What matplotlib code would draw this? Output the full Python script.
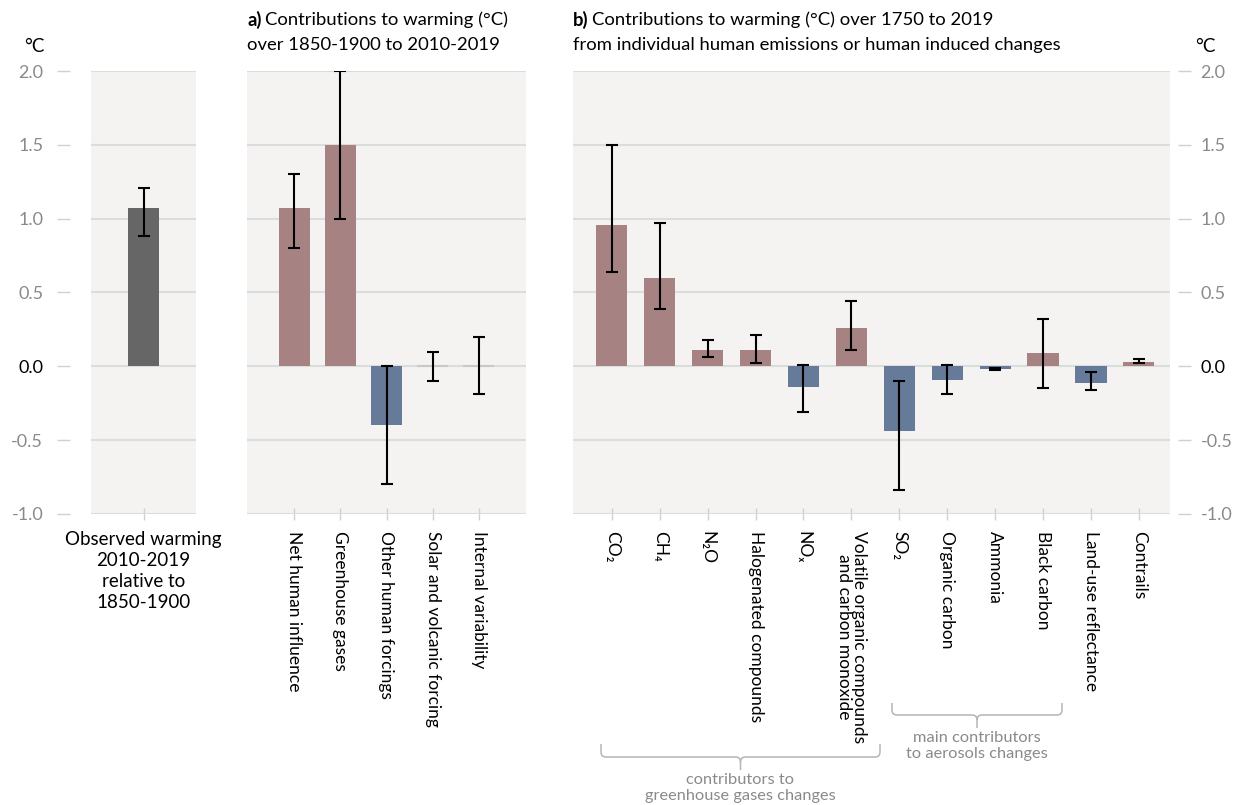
import matplotlib
matplotlib.use("Agg")
import matplotlib.pyplot as plt
from matplotlib.path import Path
from matplotlib.patches import PathPatch

plt.rcParams['font.family'] = ['Lato', 'DejaVu Sans']

# ---------------- data ----------------
obs_labels = ["Observed warming\n2010-2019\nrelative to\n1850-1900"]
obs_values = [1.07]
obs_low = [0.88]
obs_high = [1.21]

a_labels = ["Net human influence", "Greenhouse gases", "Other human forcings",
            "Solar and volcanic forcing", "Internal variability"]
a_values = [1.07, 1.5, -0.4, 0.0, 0.0]
a_low = [0.8, 1.0, -0.8, -0.1, -0.19]
a_high = [1.3, 2.0, 0.0, 0.1, 0.2]

b_labels = ["CO\u2082", "CH\u2084", "N\u2082O", "Halogenated compounds", "NO\u2093",
            "Volatile organic compounds\nand carbon monoxide", "SO\u2082",
            "Organic carbon", "Ammonia", "Black carbon", "Land-use reflectance",
            "Contrails"]
b_values = [0.96, 0.60, 0.11, 0.11, -0.14, 0.26, -0.44, -0.09, -0.02, 0.09, -0.11, 0.03]
b_low = [0.64, 0.39, 0.06, 0.02, -0.31, 0.11, -0.84, -0.19, -0.025, -0.15, -0.16, 0.02]
b_high = [1.50, 0.97, 0.18, 0.21, 0.01, 0.44, -0.10, 0.01, -0.012, 0.32, -0.04, 0.05]

y_ticks = [-1.0, -0.5, 0.0, 0.5, 1.0, 1.5, 2.0]
y_ticklabels = ["-1.0", "-0.5", "0.0", "0.5", "1.0", "1.5", "2.0"]

# ---------------- style ----------------
WARM = "#a78283"
COOL = "#667a99"
OBS = "#666666"
ZERO = "#c8c8c8"
BG = "#f4f3f1"
GRID = "#dcdcdc"
TICKC = "#d0d0d0"
LABC = "#8a8a8a"

W, H = 1238, 805
fig = plt.figure(figsize=(W / 100, H / 100), dpi=100)


def fx(px):
    return px / W


def fy(py):
    return 1 - py / H


bottom = fy(514)
height = fy(71) - bottom

ax0 = fig.add_axes([fx(91), bottom, fx(105), height])
axa = fig.add_axes([fx(247), bottom, fx(279), height])
axb = fig.add_axes([fx(573), bottom, fx(597), height])


def base_style(ax):
    ax.set_facecolor(BG)
    ax.set_ylim(-1.0, 2.0)
    ax.set_yticks(y_ticks)
    ax.grid(axis='y', color=GRID, linewidth=1.5, zorder=0)
    ax.set_axisbelow(True)
    for s in ax.spines.values():
        s.set_visible(False)
    ax.tick_params(axis='x', direction='inout', length=8, width=1, color=TICKC,
                   pad=8, labelsize=12.5, labelcolor='black')


def colour(v):
    if v > 0:
        return WARM
    if v < 0:
        return COOL
    return ZERO


def draw_bars(ax, values, low, high, width, colors=None):
    xs = list(range(len(values)))
    cols = colors if colors is not None else [colour(v) for v in values]
    for x, v, c in zip(xs, values, cols):
        if v == 0:
            ax.bar(x, v, width=width, color=ZERO, edgecolor=ZERO, linewidth=1.5, zorder=2)
        else:
            ax.bar(x, v, width=width, color=c, linewidth=0, zorder=2)
    yerr = [[v - l for v, l in zip(values, low)], [h - v for v, h in zip(values, high)]]
    ax.errorbar(xs, values, yerr=yerr, fmt='none', ecolor='black', elinewidth=1.5,
                capsize=4.5, capthick=1.5, zorder=3)
    ax.set_xticks(xs)


# observed panel
base_style(ax0)
draw_bars(ax0, obs_values, obs_low, obs_high, 0.67, colors=[OBS])
ax0.set_xlim(-1.13, 1.13)
ax0.set_xticklabels(obs_labels, linespacing=1.3, fontsize=13.5)
ax0.tick_params(axis='y', which='both', left=True, labelleft=True, direction='out',
                length=9.4, width=1, color=TICKC, pad=10, labelsize=13, labelcolor=LABC)
ax0.spines['left'].set_position(('outward', 15))

# panel a
base_style(axa)
draw_bars(axa, a_values, a_low, a_high, 0.67)
axa.set_xlim(-1.02, 5.02)
axa.set_xticklabels(a_labels, rotation=270, va='top', ha='center')
axa.tick_params(axis='y', left=False, labelleft=False)

# panel b
base_style(axb)
draw_bars(axb, b_values, b_low, b_high, 0.65)
axb.set_xlim(-0.81, 11.65)
axb.set_xticklabels(b_labels, rotation=270, va='top', ha='center', linespacing=0.95)
axb.tick_params(axis='y', left=False, labelleft=False, right=True, labelright=True,
                direction='out', length=9.4, width=1, color=TICKC, pad=6.5,
                labelsize=13, labelcolor=LABC)
axb.spines['right'].set_position(('outward', 6))

for ax in (ax0, axb):
    ax.set_yticklabels(y_ticklabels)
    for lab, t in zip(ax.get_yticklabels(), y_ticks):
        if t == 0:
            lab.set_color('black')

# unit labels
fig.text(fx(34), fy(46), "°C", ha='center', va='center', fontsize=13.5)
fig.text(fx(1205), fy(46), "°C", ha='center', va='center', fontsize=13.5)

# titles
renderer = fig.canvas.get_renderer()
TFS = 13.3


def title(xpx, bold, line1, line2):
    t = fig.text(fx(xpx), fy(20), bold, ha='left', va='center', fontsize=TFS, fontweight='bold')
    bb = t.get_window_extent(renderer=renderer)
    fig.text(fx(bb.x1 + 4), fy(20), line1, ha='left', va='center', fontsize=TFS)
    fig.text(fx(xpx), fy(45), line2, ha='left', va='center', fontsize=TFS)


title(247, "a)", "Contributions to warming (°C)", "over 1850-1900 to 2010-2019")
title(573, "b)", "Contributions to warming (°C) over 1750 to 2019",
      "from individual human emissions or human induced changes")


# brackets (annotations)
def bracket(x0, x1, ytop, ymid, ystem, r=5):
    xc = (x0 + x1) / 2
    verts = [
        (x0, ytop), (x0, ymid - r), (x0, ymid), (x0 + r, ymid),
        (xc - r, ymid), (xc, ymid), (xc, ymid + r), (xc, ystem),
    ]
    codes = [Path.MOVETO, Path.LINETO, Path.CURVE3, Path.CURVE3,
             Path.LINETO, Path.CURVE3, Path.CURVE3, Path.LINETO]
    verts2 = [
        (x1, ytop), (x1, ymid - r), (x1, ymid), (x1 - r, ymid),
        (xc + r, ymid), (xc, ymid), (xc, ymid + r),
    ]
    codes2 = [Path.MOVETO, Path.LINETO, Path.CURVE3, Path.CURVE3,
              Path.LINETO, Path.CURVE3, Path.CURVE3]
    v = [(fx(a), fy(b)) for a, b in verts]
    v2 = [(fx(a), fy(b)) for a, b in verts2]
    for vv, cc in ((v, codes), (v2, codes2)):
        p = PathPatch(Path(vv, cc), transform=fig.transFigure, fill=False,
                      edgecolor='#b5b5b5', linewidth=1.1)
        fig.patches.append(p)


bracket(601, 880, 744, 757, 770)
bracket(892, 1062, 703, 715, 728)
BFS = 11.8
fig.text(fx(740), fy(780), "contributors to", ha='center', va='center', fontsize=BFS, color=LABC)
fig.text(fx(740), fy(796), "greenhouse gases changes", ha='center', va='center', fontsize=BFS, color=LABC)
fig.text(fx(977), fy(738), "main contributors", ha='center', va='center', fontsize=BFS, color=LABC)
fig.text(fx(977), fy(754), "to aerosols changes", ha='center', va='center', fontsize=BFS, color=LABC)

fig.savefig("out.png", dpi=100, facecolor='white')
